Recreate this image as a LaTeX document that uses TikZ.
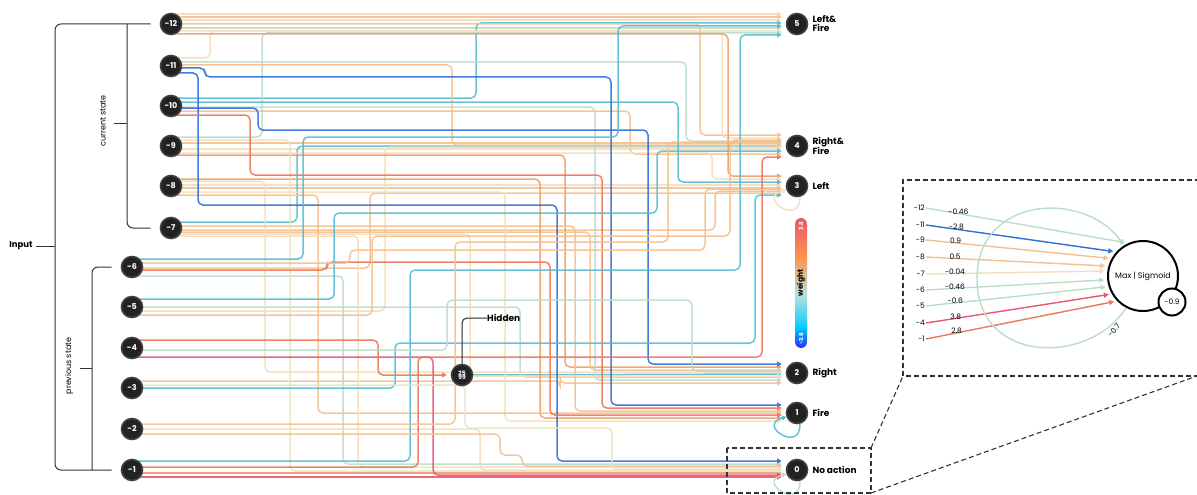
\documentclass[tikz,border=0pt]{standalone}
\usepackage{fontspec}
\setmainfont{Poppins}
\usetikzlibrary{positioning,arrows.meta,backgrounds}

\definecolor{wtan}{HTML}{F6DDBA}
\definecolor{wpeach}{HTML}{F3C08F}
\definecolor{worange}{HTML}{EE9C68}
\definecolor{wred}{HTML}{E9775A}
\definecolor{wpink}{HTML}{E8566F}
\definecolor{wmint}{HTML}{BCDCCB}
\definecolor{wteal}{HTML}{55BCD5}
\definecolor{wblue}{HTML}{2E6FD9}
\definecolor{wbeige}{HTML}{E6E4C6}
\definecolor{nodefill}{HTML}{222222}

\begin{document}
\begin{tikzpicture}[x=1pt,y=-1pt,
	neuron/.style={circle,fill=nodefill,draw=black!75,line width=1.6pt,
		minimum size=21pt,inner sep=0pt,text=white,
		font=\bfseries\fontsize{8}{8}\selectfont},
	outlbl/.style={align=left,inner sep=0pt,font=\bfseries\fontsize{9}{9}\selectfont},
	wire/.style={line width=1.5pt,rounded corners=5pt,opacity=.9,
		-{Triangle[length=4.5pt,width=5pt]}},
	brace/.style={draw=black!80,line width=1pt,rounded corners=6pt},
	sidelbl/.style={rotate=90,font=\fontsize{8}{8}\selectfont},
	zoomline/.style={draw=black!80,line width=1.1pt,dash pattern=on 5pt off 3pt},
	zwire/.style={line width=1.4pt,-{Triangle[length=5pt,width=5pt]},shorten >=3pt},
	zlbl/.style={font=\fontsize{7.5}{7.5}\selectfont,inner sep=1pt},
	]
	\useasboundingbox (0,0) rectangle (1197,495);
	
	% input neurons
	\foreach \k/\yy in {12/24,11/66,10/106,9/146,8/186,7/228}
	\node[neuron] (in\k) at (171,\yy) {-\k};
	\foreach \k/\yy in {6/267,5/307,4/348,3/388,2/429,1/470}
	\node[neuron] (in\k) at (132,\yy) {-\k};
	
	% output neurons
	\foreach \k/\yy in {5/24,4/146,3/186,2/373,1/413,0/470}
	\node[neuron] (out\k) at (797,\yy) {\k};
	\node[outlbl,right=4pt of out5] (lbl5) {Left\&\\Fire};
	\node[outlbl,right=4pt of out4] (lbl4) {Right\&\\Fire};
	\node[outlbl,right=4pt of out3] (lbl3) {Left};
	\node[outlbl,right=4pt of out2] (lbl2) {Right};
	\node[outlbl,right=4pt of out1] (lbl1) {Fire};
	\node[outlbl,right=4pt of out0] (lbl0) {No action};
	
	% hidden neuron
	\node[neuron,font=\bfseries\fontsize{6}{5}\selectfont,align=center] (hid) at (462,375) {25\\[-1pt]99};
	\node[outlbl,anchor=west] (hidlbl) at (487,318) {Hidden};
	\draw[black!85,line width=1pt,rounded corners=5pt] (hid.north) |- (hidlbl.west);
	
	\begin{scope}[on background layer]
		% straight wires
		\foreach \src/\da/\dst/\db/\col in {
			in12/-10/out5/-10/wtan, in12/-7/out5/-7/wpeach, in12/-4/out5/-4/wtan,
			in12/4/out5/4/wmint, in9/-3/out4/-3/wpeach, in9/3/out4/3/wtan,
			in8/-1/out3/-1/wtan, in8/2/out3/2/wpeach, in1/3/out0/3/worange,
			in1/7/out0/7/wpink, hid/0/out2/1/wteal}
		\draw[wire,\col] ([shift={(-6,\da)}]\src.east) -- ([shift={(-4,\db)}]\dst.west);
		
		% one bend
		\foreach \src/\da/\xt/\dst/\db/\col in {
			in10/-8/476/out5/-1/wteal, in11/-8/210/out5/7/wtan, in9/-9/262/out5/9/wmint,
			in12/0/700/out4/-11/wpeach, in12/7/722/out4/-8/wtan, in11/-4/686/out4/-5/wmint,
			in7/-6/297/out4/0/wteal, in10/5/630/out4/8/wpeach, in5/4/385/out4/1/wtan,
			in11/-1/452/out4/-1/wpeach,
			in12/10/728/out3/-10/worange, in9/7/712/out3/-7/wtan, in10/-4/678/out3/-4/wteal,
			in7/2/715/out3/5/wpeach, in6/1/370/out3/7/wpeach,
			in9/9/565/out2/-6/worange, in7/4/590/out2/-3/wpeach, in5/0/520/out2/4/wmint,
			in10/1/595/out2/7/wmint, in3/-7/560/out2/10/wpeach, in8/-5/265/out2/-1/wtan,
			in7/6/470/out2/3/wtan,
			in7/-2/575/out1/-2/wpeach, in8/-7/540/out1/5/worange, in8/6/505/out1/8/wtan,
			in8/9/318/out1/0/wpeach,
			in6/9/343/out0/-6/wmint, in7/8/358/out0/-3/wtan, in2/0/480/out0/0/wtan,
			in9/-6/290/out0/1/wbeige,
			in4/9/433/out0/5/wpink, in4/-8/378/hid/0/wred}
		{
			\path ([shift={(-6,\da)}]\src.east) coordinate (p)
			([shift={(-4,\db)}]\dst.west) coordinate (q);
			\draw[wire,\col] (p) -- (p -| \xt,0) -- (q -| \xt,0) -- (q);
		}
		
		% two bends
		\foreach \src/\da/\xa/\m/\xb/\dst/\db/\col in {
			in11/2/205/77/611/out1/-8/wblue, in11/7/198/205/557/out0/-9/wblue,
			in10/2/258/130/648/out2/-9/wblue, in10/9/250/175/602/out1/-5/wred,
			in6/-8/303/137/618/out5/2/wteal, in5/-8/334/213/657/out4/5/wteal,
			in1/-9/410/270/740/out5/11/wteal, in3/0/395/343/755/out3/9/wteal,
			in1/-3/418/357/762/out4/11/wred, in6/3/327/262/550/out1/2/wred,
			in6/-4/350/250/705/out3/3/wpeach, in5/8/372/236/730/out4/-6/wpeach,
			in4/2/447/300/692/out2/-2/wmint, in2/-5/455/242/668/out4/-4/wpeach,
			in2/5/500/455/522/out0/-4/wpeach, in3/-3/465/428/612/out0/-1/wbeige}
		{
			\path ([shift={(-6,\da)}]\src.east) coordinate (p)
			([shift={(-4,\db)}]\dst.west) coordinate (q);
			\draw[wire,\col] (p) -- (p -| \xa,0) -- (\xa,\m) -- (\xb,\m) -- (q -| \xb,0) -- (q);
		}
		
		% self loops
		\draw[wire,wtan] (out3.-75) .. controls +(1,30) and +(-30,8) .. (out3.200);
		\draw[wire,wteal] (out1.-75) .. controls +(1,30) and +(-30,8) .. (out1.200);
		\draw[wire,wmint] (out0.-75) .. controls +(1,30) and +(-30,8) .. (out0.200);
	\end{scope}
	
	% brackets
	\node[font=\bfseries\fontsize{8.5}{8.5}\selectfont,anchor=east] (inlbl) at (36,246) {Input};
	\draw[brace] ([xshift=-9pt]in12.west) -- (55,24) -- (55,470) -- ([xshift=-9pt]in1.west);
	\draw[brace] (inlbl.east) -- (55,246);
	\draw[brace] (127,24) -- (127,228) -- ([xshift=-9pt]in7.west);
	\draw[brace] (127,123) -- (114,123);
	\node[sidelbl] (curlbl) at (103,121) {current state};
	\draw[brace] ([xshift=-9pt]in6.west) -- (92,267) -- (92,470);
	\draw[brace] (92,368) -- (80,368);
	\node[sidelbl] (prevlbl) at (69,366) {previous state};
	
	% colour scale
	\begin{scope}
		\clip[rounded corners=6pt] (795,218) rectangle (807,348);
		\shade[top color=wpink,bottom color=orange!80!red!70] (795,217) rectangle (807,259);
		\shade[top color=orange!80!red!70,bottom color=cyan!25!teal!30] (795,258) rectangle (807,296);
		\shade[top color=cyan!25!teal!30,bottom color=cyan!80!blue] (795,295) rectangle (807,328);
		\shade[top color=cyan!80!blue,bottom color=blue!85] (795,327) rectangle (807,349);
	\end{scope}
	\node[rotate=90,text=white,font=\bfseries\fontsize{5.5}{5}\selectfont] (cbhi) at (801,226) {3.8};
	\node[rotate=90,font=\bfseries\fontsize{7.5}{7}\selectfont] (cbmid) at (801,283) {weight};
	\node[rotate=90,text=white,font=\bfseries\fontsize{5.5}{5}\selectfont] (cblo) at (801,339) {-3.8};
	
	% zoom frame
	\coordinate (zsnw) at (727,448);
	\coordinate (zsne) at (871,448);
	\coordinate (zsse) at (871,493);
	\coordinate (zbsw) at (903,376);
	\coordinate (zbse) at (1197,376);
	\draw[zoomline] (zsnw) rectangle (zsse);
	\draw[zoomline] (1200,180) -- (903,180) -- (zbsw) -- (zbse);
	\draw[zoomline] (zsne) -- (zbsw);
	\draw[zoomline] (zsse) -- (zbse);
	
	% detail of output 0
	\node[circle,draw=black,line width=2pt,minimum size=70pt,inner sep=0pt,
	font=\fontsize{8}{8}\selectfont] (maxn) at (1143,276) {Max | Sigmoid};
	\node[circle,draw=black,line width=2pt,fill=white,minimum size=27pt,inner sep=0pt,
	font=\fontsize{7.5}{7.5}\selectfont] (bias) at (1172,302) {-0.9};
	\foreach \lab/\yy/\ang/\w/\col in {
		-12/208/114/-0.46/wmint, -11/225/138/-2.8/wblue, -9/240/151/0.9/wpeach,
		-8/257/164/0.5/wpeach, -7/274/172/-0.04/wtan, -6/290/186/-0.46/wmint,
		-5/306/197/-0.6/wmint, -4/323/210/3.8/wpink, -1/339/224/2.8/wred}
	{
		\node[zlbl,anchor=east] (z\yy) at (926,\yy) {\lab};
		\draw[zwire,\col] (z\yy.east) -- node[zlbl,pos=.16,yshift=2pt,text=black] {\w} (maxn.\ang);
	}
	\draw[zwire,wmint,shorten >=1pt] (maxn.-118) .. controls (1090,365) and (978,365) .. (977,280)
	.. controls (976,195) and (1085,190) .. (maxn.122);
	\node[zlbl,rotate=50] (selfw) at (1114,330) {-0.7};
\end{tikzpicture}
\end{document}
